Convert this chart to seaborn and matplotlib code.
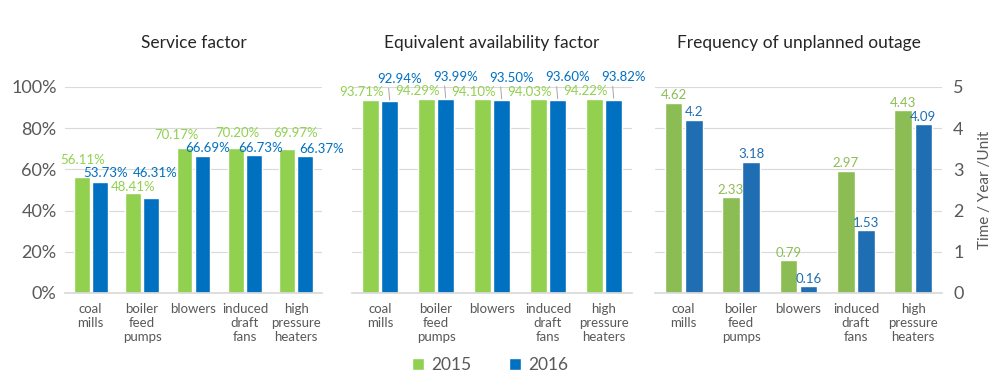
import matplotlib
matplotlib.use("Agg")
import matplotlib.pyplot as plt
import seaborn as sns
import pandas as pd
from matplotlib.patches import Patch

categories = ["coal\nmills", "boiler\nfeed\npumps", "blowers", "induced\ndraft\nfans", "high\npressure\nheaters"]
years = ["2015", "2016"]

service_2015 = [56.11, 48.41, 70.17, 70.20, 69.97]
service_2016 = [53.73, 46.31, 66.69, 66.73, 66.37]
avail_2015 = [93.71, 94.29, 94.10, 94.03, 94.22]
avail_2016 = [92.94, 93.99, 93.50, 93.60, 93.82]
outage_2015 = [4.62, 2.33, 0.79, 2.97, 4.43]
outage_2016 = [4.20, 3.18, 0.16, 1.53, 4.09]
outage_labels_2016 = ["4.2", "3.18", "0.16", "1.53", "4.09"]

titles = ["Service factor", "Equivalent availability factor", "Frequency of unplanned outage"]

# label offsets (points) for the service-factor panel, to avoid overlaps
svc_off_2015 = [(1, 8), (0, 0), (-6, 5), (1, 7), (6, 7)]
svc_off_2016 = [(4, 2), (3, 13), (4, 1), (5, 1), (12, 1)]

GREEN = "#92d050"
BLUE = "#0070c0"
GREEN3 = "#8cbd55"
BLUE3 = "#1f6eb4"
GRAY = "#595959"
GRID = "#d9d9d9"
LBL = 9.5

sns.set_theme(style="white")
plt.rcParams["font.family"] = ["Lato", "DejaVu Sans"]


def long_df(a, b):
    return pd.DataFrame({
        "cat": categories * 2,
        "year": [years[0]] * len(a) + [years[1]] * len(b),
        "val": list(a) + list(b),
    })


fig = plt.figure(figsize=(10, 3.86), dpi=100)
ax1 = fig.add_axes([0.065, 0.241, 0.257, 0.534])
ax2 = fig.add_axes([0.352, 0.241, 0.280, 0.534])
ax3 = fig.add_axes([0.655, 0.241, 0.287, 0.534])

specs = [
    (ax1, service_2015, service_2016, [GREEN, BLUE]),
    (ax2, avail_2015, avail_2016, [GREEN, BLUE]),
    (ax3, outage_2015, outage_2016, [GREEN3, BLUE3]),
]

for ax, a, b, pal in specs:
    df = long_df(a, b)
    sns.barplot(data=df, x="cat", y="val", hue="year", palette=pal, ax=ax,
                width=0.7, gap=0.12, legend=False, saturation=1)
    ax.set_xlabel("")
    ax.set_ylabel("")
    for s in ax.spines.values():
        s.set_visible(False)
    ax.spines["bottom"].set_visible(True)
    ax.spines["bottom"].set_color(GRID)
    ax.tick_params(axis="x", length=0, labelsize=9.5, labelcolor=GRAY, pad=7)
    ax.set_axisbelow(True)
    ax.set_xlim(-0.5, 4.5)

for ax in (ax1, ax2):
    ax.set_ylim(0, 100)
    ax.set_yticks([0, 20, 40, 60, 80, 100])
    ax.yaxis.grid(True, color=GRID, lw=0.8)
ax1.set_yticklabels([f"{t}%" for t in range(0, 101, 20)])
ax1.tick_params(axis="y", length=0, labelsize=13, labelcolor=GRAY, pad=6)
ax2.tick_params(axis="y", length=0, labelleft=False)

ax3.set_ylim(0, 5)
ax3.set_yticks([0, 1, 2, 3, 4, 5])
ax3.yaxis.grid(True, color=GRID, lw=0.8)
ax3.yaxis.tick_right()
ax3.yaxis.set_label_position("right")
ax3.tick_params(axis="y", length=0, labelsize=13, labelcolor=GRAY, pad=8, labelright=True, labelleft=False)
ax3.set_ylabel("Time / Year /Unit", fontsize=11, color=GRAY, labelpad=10)

dx = 0.175
for i in range(5):
    ax1.annotate(f"{service_2015[i]:.2f}%", (i - dx, service_2015[i]), xytext=svc_off_2015[i],
                 textcoords="offset points", ha="center", va="bottom", fontsize=LBL, color=GREEN,
                 annotation_clip=False)
    ax1.annotate(f"{service_2016[i]:.2f}%", (i + dx, service_2016[i]), xytext=svc_off_2016[i],
                 textcoords="offset points", ha="center", va="bottom", fontsize=LBL, color=BLUE,
                 annotation_clip=False)

    ax2.annotate(f"{avail_2015[i]:.2f}%", (i - dx, avail_2015[i]), xytext=(-6, 1),
                 textcoords="offset points", ha="center", va="bottom", fontsize=LBL, color=GREEN,
                 annotation_clip=False)
    ax2.annotate(f"{avail_2016[i]:.2f}%", (i + dx, avail_2016[i]), xytext=(7, 12),
                 textcoords="offset points", ha="center", va="bottom", fontsize=LBL, color=BLUE,
                 annotation_clip=False,
                 arrowprops=dict(arrowstyle="-", color="#a6a6a6", lw=0.7, shrinkA=0, shrinkB=1,
                                 relpos=(0.25, 0)))

    ax3.annotate(f"{outage_2015[i]:.2f}", (i - dx, outage_2015[i]), xytext=(0, 1),
                 textcoords="offset points", ha="center", va="bottom", fontsize=LBL, color=GREEN3)
    ax3.annotate(outage_labels_2016[i], (i + dx, outage_2016[i]), xytext=(0, 1),
                 textcoords="offset points", ha="center", va="bottom", fontsize=LBL, color=BLUE3)

for ax, t in zip((ax1, ax2, ax3), titles):
    bb = ax.get_position()
    fig.text((bb.x0 + bb.x1) / 2, 0.888, t, ha="center", va="center", fontsize=12.5, color="#262626")

handles = [Patch(facecolor=GREEN, label="2015"), Patch(facecolor=BLUE, label="2016")]
fig.legend(handles=handles, loc="center", bbox_to_anchor=(0.49, 0.055), ncol=2, frameon=False,
           fontsize=12.5, labelcolor=GRAY, handlelength=0.7, handleheight=0.7, columnspacing=2.2,
           handletextpad=0.4)

fig.savefig("out.png", dpi=100, facecolor="white")
